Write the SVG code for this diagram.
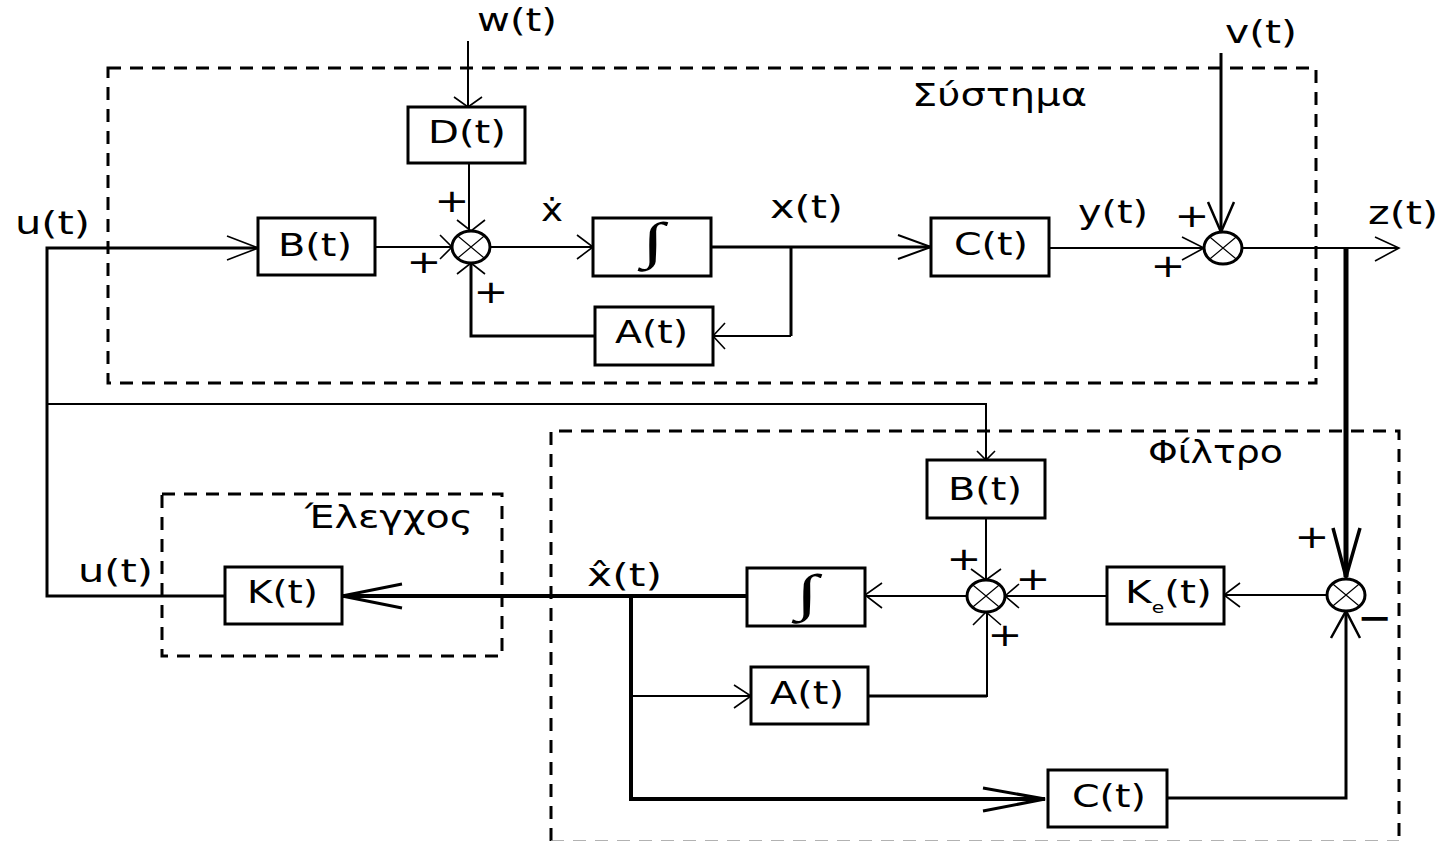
<svg xmlns="http://www.w3.org/2000/svg" width="1449" height="841" viewBox="0 0 1449 841">
<style>
text{font-family:"DejaVu Sans","Liberation Sans",sans-serif;font-size:32px;fill:#000}
.int{font-family:"Liberation Serif","DejaVu Serif",serif;font-size:51px;font-weight:bold}
.box{fill:#fff;stroke:#000;stroke-width:3}
.sum{fill:#fff;stroke:#000;stroke-width:3}
.x{stroke:#000;stroke-width:1.2;fill:none}
.dash{fill:none;stroke:#000;stroke-width:3;stroke-dasharray:13 9}
.w1{fill:none;stroke:#000;stroke-width:2}
.w2{fill:none;stroke:#000;stroke-width:3}
.w3{fill:none;stroke:#000;stroke-width:4}
.w4{fill:none;stroke:#000;stroke-width:5}
.ah{fill:none;stroke:#000;stroke-width:1.6}
.ahb{fill:none;stroke:#000;stroke-width:3}
</style>
<rect width="1449" height="841" fill="#fff"/>

<g id="regions">
<rect class="dash" x="108" y="68" width="1208" height="315"/>
<path class="dash" d="M551,841 V431 H1399 V841"/>
<path class="dash" d="M551,841 H1399" style="stroke-width:1.5;stroke:#999"/>
<rect class="dash" x="162" y="494" width="340" height="162"/>
<text x="912" y="106" textLength="175" lengthAdjust="spacingAndGlyphs">Σύστημα</text>
<text x="1148" y="463" textLength="135" lengthAdjust="spacingAndGlyphs">Φίλτρο</text>
<text x="305" y="528" textLength="168" lengthAdjust="spacingAndGlyphs">Έλεγχος</text>
</g>

<g id="connectors">
<path class="w2" d="M258,248 H47 V596 H225"/>
<path class="w2" d="M47,404 H986 V460" style="stroke-width:2"/>
<path class="ah" d="M227,236 L258,248 L227,260"/>
<path class="ah" d="M977,451 L986,460 L995,451"/>
<path class="w1" d="M468,41 V107"/>
<path class="ah" d="M454,97 L468,107 L482,97"/>
<path class="w1" d="M469,163 V231"/>
<path class="ah" d="M457,220 L471,231 L485,220"/>
<path class="w1" d="M375,247 H452"/>
<path class="ah" d="M440,235 L452,247 L440,259"/>
<path class="w1" d="M490,247 H593"/>
<path class="ah" d="M577,235 L593,247 L577,259"/>
<path class="w2" d="M711,247 H931"/>
<path class="ah" style="stroke-width:2" d="M898,235 L931,247 L898,259"/>
<path class="w2" d="M791,247 V336"/>
<path class="w1" d="M791,336 H713"/>
<path class="ah" d="M725,323 L713,336 L725,349"/>
<path class="w2" d="M595,336 H471 V263"/>
<path class="ah" d="M457,274 L471,263 L485,274"/>
<path class="w1" d="M1049,248 H1204"/>
<path class="ah" d="M1182,237 L1204,248 L1182,260"/>
<path class="w2" d="M1221,53 V232"/>
<path class="ah" style="stroke-width:2.5" d="M1208,202 L1221,232 L1234,202"/>
<path class="w1" d="M1242,248 H1399"/>
<path class="ah" d="M1375,237 L1399,248 L1375,261"/>
<path class="w4" d="M1346,248 V577"/>
<path class="ahb" style="stroke-width:3.5" d="M1333,528 L1346,577 L1360,528"/>
<path class="w1" d="M1327,595 H1224"/>
<path class="ah" d="M1240,583 L1224,595 L1240,607"/>
<path class="w1" d="M1107,596 H1005"/>
<path class="ah" d="M1019,584 L1005,596 L1019,608"/>
<path class="w1" d="M986,518 V580"/>
<path class="ah" d="M971,569 L986,580 L1001,569"/>
<path class="w1" d="M967,596 H865"/>
<path class="ah" d="M882,583 L865,595 L882,608"/>
<path class="w3" d="M747,596 H342"/>
<path class="ahb" d="M402,584 L342,596 L402,608"/>
<path class="w3" d="M631,596 V799 H1045"/>
<path class="ahb" d="M983,788 L1045,799 L983,811"/>
<path class="w1" d="M631,696 H751"/>
<path class="ah" d="M734,685 L751,696 L734,708"/>
<path class="w2" d="M868,696 H987"/>
<path class="w1" d="M987,697 V612"/>
<path class="ah" d="M973,625 L986,612 L1001,625"/>
<path class="w2" d="M1167,798 H1346 V611"/>
<path class="ahb" style="stroke-width:2.5" d="M1331,638 L1346,611 L1360,638"/>
</g>

<g id="labels">
<text x="477" y="31" textLength="80" lengthAdjust="spacingAndGlyphs">w(t)</text>
<text x="1225" y="43" textLength="72" lengthAdjust="spacingAndGlyphs">v(t)</text>
<text x="15" y="234" textLength="75" lengthAdjust="spacingAndGlyphs">u(t)</text>
<text x="78" y="582" textLength="75" lengthAdjust="spacingAndGlyphs">u(t)</text>
<text x="770" y="218" textLength="73" lengthAdjust="spacingAndGlyphs">x(t)</text>
<text x="1078" y="223" textLength="70" lengthAdjust="spacingAndGlyphs">y(t)</text>
<text x="1368" y="224" textLength="70" lengthAdjust="spacingAndGlyphs">z(t)</text>
<text x="541" y="221" textLength="22" lengthAdjust="spacingAndGlyphs">ẋ</text>
<text x="587" y="586" textLength="75" lengthAdjust="spacingAndGlyphs">x̂(t)</text>
<text transform="translate(452,212) scale(1.3,1)" text-anchor="middle">+</text>
<text transform="translate(424,273) scale(1.3,1)" text-anchor="middle">+</text>
<text transform="translate(491,303) scale(1.3,1)" text-anchor="middle">+</text>
<text transform="translate(1192,227) scale(1.3,1)" text-anchor="middle">+</text>
<text transform="translate(1168,277) scale(1.3,1)" text-anchor="middle">+</text>
<text transform="translate(964,570) scale(1.3,1)" text-anchor="middle">+</text>
<text transform="translate(1033,590) scale(1.3,1)" text-anchor="middle">+</text>
<text transform="translate(1005,646) scale(1.3,1)" text-anchor="middle">+</text>
<text transform="translate(1312,548) scale(1.3,1)" text-anchor="middle">+</text>
<text transform="translate(1375,629) scale(1.3,1)" text-anchor="middle" font-weight="bold">−</text>
</g>

<g id="sum1"><ellipse class="sum" cx="471" cy="247" rx="19" ry="16"/><path class="x" d="M457.5,235.7 L484.5,258.3 M484.5,235.7 L457.5,258.3"/></g>
<g id="sum2"><ellipse class="sum" cx="1223" cy="248" rx="19" ry="16"/><path class="x" d="M1209.5,236.7 L1236.5,259.3 M1236.5,236.7 L1209.5,259.3"/></g>
<g id="sum4"><ellipse class="sum" cx="986" cy="596" rx="19" ry="16"/><path class="x" d="M972.5,584.7 L999.5,607.3 M999.5,584.7 L972.5,607.3"/></g>
<g id="sum3"><ellipse class="sum" cx="1346" cy="595" rx="19" ry="16"/><path class="x" d="M1332.5,583.7 L1359.5,606.3 M1359.5,583.7 L1332.5,606.3"/></g>

<g id="B_sys"><rect class="box" x="258" y="218" width="117" height="57"/><text x="278" y="256" textLength="74" lengthAdjust="spacingAndGlyphs">B(t)</text></g>
<g id="D_sys"><rect class="box" x="408" y="107" width="117" height="56"/><text x="428" y="143" textLength="78" lengthAdjust="spacingAndGlyphs">D(t)</text></g>
<g id="Int_sys"><rect class="box" x="593" y="218" width="118" height="58"/><text class="int" transform="translate(653,258) scale(1.6,1)" text-anchor="middle">∫</text></g>
<g id="A_sys"><rect class="box" x="595" y="307" width="118" height="58"/><text x="615" y="343" textLength="73" lengthAdjust="spacingAndGlyphs">A(t)</text></g>
<g id="C_sys"><rect class="box" x="931" y="218" width="118" height="58"/><text x="954" y="255" textLength="74" lengthAdjust="spacingAndGlyphs">C(t)</text></g>
<g id="B_flt"><rect class="box" x="927" y="460" width="118" height="58"/><text x="948" y="500" textLength="74" lengthAdjust="spacingAndGlyphs">B(t)</text></g>
<g id="Ke_flt"><rect class="box" x="1107" y="567" width="117" height="57"/><text transform="translate(1125,603) scale(1.27,1)">K<tspan font-size="16" dy="10">e</tspan><tspan dy="-10">(t)</tspan></text></g>
<g id="Int_flt"><rect class="box" x="747" y="568" width="118" height="58"/><text class="int" transform="translate(807,610) scale(1.6,1)" text-anchor="middle">∫</text></g>
<g id="A_flt"><rect class="box" x="751" y="667" width="117" height="57"/><text x="770" y="704" textLength="74" lengthAdjust="spacingAndGlyphs">A(t)</text></g>
<g id="C_flt"><rect class="box" x="1048" y="770" width="119" height="57"/><text x="1072" y="807" textLength="74" lengthAdjust="spacingAndGlyphs">C(t)</text></g>
<g id="K_ctl"><rect class="box" x="225" y="567" width="117" height="57"/><text x="247" y="603" textLength="71" lengthAdjust="spacingAndGlyphs">K(t)</text></g>
</svg>
